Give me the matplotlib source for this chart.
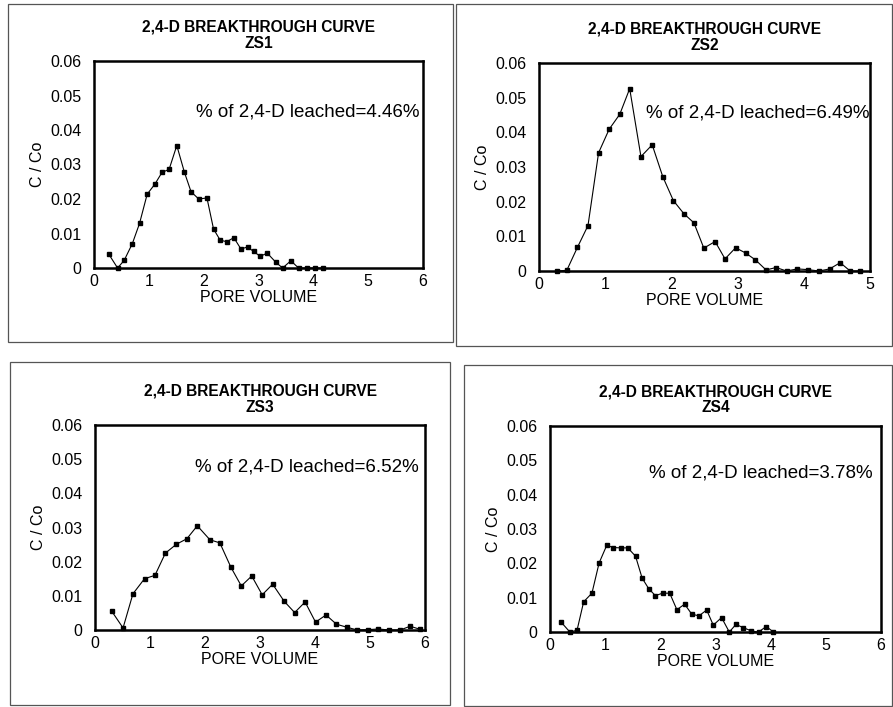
import matplotlib
matplotlib.use("Agg")
import matplotlib.pyplot as plt
from matplotlib.patches import Rectangle

plt.rcParams['font.family'] = ['Liberation Sans', 'DejaVu Sans']

# pore volume / relative concentration
zs1_pv = [0.27, 0.43, 0.55, 0.70, 0.83, 0.97, 1.11, 1.24, 1.37, 1.51, 1.65, 1.77, 1.91, 2.06, 2.18,
          2.30, 2.42, 2.55, 2.68, 2.80, 2.91, 3.03, 3.16, 3.32, 3.44, 3.59, 3.73, 3.88, 4.03, 4.18]
zs1_c = [0.0040, 0.0000, 0.0022, 0.0071, 0.0129, 0.0214, 0.0243, 0.0277, 0.0286, 0.0355, 0.0277,
         0.0221, 0.0200, 0.0203, 0.0113, 0.0081, 0.0076, 0.0088, 0.0055, 0.0061, 0.0048, 0.0034,
         0.0043, 0.0016, 0.0000, 0.0021, 0.0000, 0.0000, 0.0000, 0.0000]

zs2_pv = [0.27, 0.42, 0.58, 0.74, 0.90, 1.06, 1.22, 1.37, 1.54, 1.71, 1.87, 2.03, 2.19, 2.34, 2.49,
          2.66, 2.81, 2.97, 3.12, 3.27, 3.43, 3.58, 3.74, 3.90, 4.06, 4.23, 4.39, 4.55, 4.70, 4.85]
zs2_c = [0.0000, 0.0002, 0.0068, 0.0131, 0.0341, 0.0409, 0.0452, 0.0526, 0.0330, 0.0364, 0.0272,
         0.0203, 0.0165, 0.0139, 0.0066, 0.0085, 0.0035, 0.0067, 0.0052, 0.0032, 0.0003, 0.0010,
         0.0000, 0.0006, 0.0004, 0.0000, 0.0006, 0.0024, 0.0000, 0.0000]

zs3_pv = [0.30, 0.51, 0.69, 0.90, 1.09, 1.28, 1.48, 1.67, 1.86, 2.09, 2.27, 2.47, 2.66, 2.85, 3.04,
          3.23, 3.44, 3.63, 3.82, 4.01, 4.20, 4.39, 4.58, 4.77, 4.97, 5.15, 5.35, 5.55, 5.73, 5.91]
zs3_c = [0.0056, 0.0006, 0.0106, 0.0150, 0.0160, 0.0225, 0.0251, 0.0267, 0.0305, 0.0264, 0.0255,
         0.0184, 0.0129, 0.0158, 0.0103, 0.0134, 0.0084, 0.0051, 0.0082, 0.0023, 0.0044, 0.0017,
         0.0008, 0.0000, 0.0001, 0.0003, 0.0000, 0.0000, 0.0011, 0.0002]

zs4_pv = [0.20, 0.36, 0.49, 0.61, 0.76, 0.89, 1.03, 1.14, 1.28, 1.41, 1.55, 1.67, 1.79, 1.91, 2.04,
          2.17, 2.30, 2.44, 2.57, 2.70, 2.84, 2.96, 3.11, 3.25, 3.37, 3.50, 3.65, 3.78, 3.92, 4.05]
zs4_c = [0.0029, 0.0000, 0.0005, 0.0088, 0.0113, 0.0201, 0.0253, 0.0246, 0.0245, 0.0245, 0.0221,
         0.0157, 0.0126, 0.0106, 0.0113, 0.0113, 0.0065, 0.0081, 0.0052, 0.0047, 0.0064, 0.0020,
         0.0042, 0.0000, 0.0022, 0.0013, 0.0003, 0.0000, 0.0016, 0.0000]

names = ["ZS1", "ZS2", "ZS3", "ZS4"]
leached = ["4.46%", "6.49%", "6.52%", "3.78%"]
xmax = [6, 5, 6, 6]
yticks = [0, 0.01, 0.02, 0.03, 0.04, 0.05, 0.06]
ylabels = ["0", "0.01", "0.02", "0.03", "0.04", "0.05", "0.06"]

W, H = 893, 707
fig = plt.figure(figsize=(W / 100, H / 100), dpi=100)

# axes boxes in pixels: left, top, right, bottom
boxes = [(94, 61, 423, 268), (539, 63, 870, 271), (95, 425, 425, 630), (550, 426, 881, 632)]
# outer chart-area frames in pixels
frames = [(8, 4, 453, 342), (456, 4, 892, 346), (10, 362, 450, 705), (464, 365, 892, 706)]
# leached text position (axes fraction)
txt_pos = [(0.99, 0.755), (1.0, 0.76), (0.98, 0.797), (0.975, 0.77)]

for l, t, r, b in frames:
    fig.add_artist(Rectangle((l / W, 1 - b / H), (r - l) / W, (b - t) / H,
                             transform=fig.transFigure, fill=False,
                             edgecolor="#555555", linewidth=0.9))

series = [(zs1_pv, zs1_c), (zs2_pv, zs2_c), (zs3_pv, zs3_c), (zs4_pv, zs4_c)]

for i in range(4):
    l, t, r, b = boxes[i]
    ax = fig.add_axes([l / W, 1 - b / H, (r - l) / W, (b - t) / H])
    x, y = series[i]
    ax.plot(x, y, color="black", linewidth=0.8, marker="s", markersize=3.4,
            markerfacecolor="black", markeredgecolor="black", clip_on=False)
    ax.set_xlim(0, xmax[i])
    ax.set_ylim(0, 0.06)
    ax.set_xticks(range(0, xmax[i] + 1))
    ax.set_yticks(yticks)
    ax.set_yticklabels(ylabels)
    ax.tick_params(length=0, labelsize=11.5)
    ax.tick_params(axis="y", pad=9)
    ax.tick_params(axis="x", pad=4)
    for s in ax.spines.values():
        s.set_linewidth(1.8)
    ax.set_xlabel("PORE VOLUME", fontsize=11.5, labelpad=1)
    ax.set_ylabel("C / Co", fontsize=11.5, labelpad=4)
    h = b - t
    ax.text(0.5, 1 + 34 / h, "2,4-D BREAKTHROUGH CURVE", transform=ax.transAxes,
            ha="center", va="center", fontsize=11.2, fontweight="bold")
    ax.text(0.5, 1 + 18 / h, names[i], transform=ax.transAxes,
            ha="center", va="center", fontsize=11.2, fontweight="bold")
    ax.text(txt_pos[i][0], txt_pos[i][1], "% of 2,4-D leached=" + leached[i],
            transform=ax.transAxes, ha="right", va="center", fontsize=13.5)

fig.savefig("out.png", dpi=100)
